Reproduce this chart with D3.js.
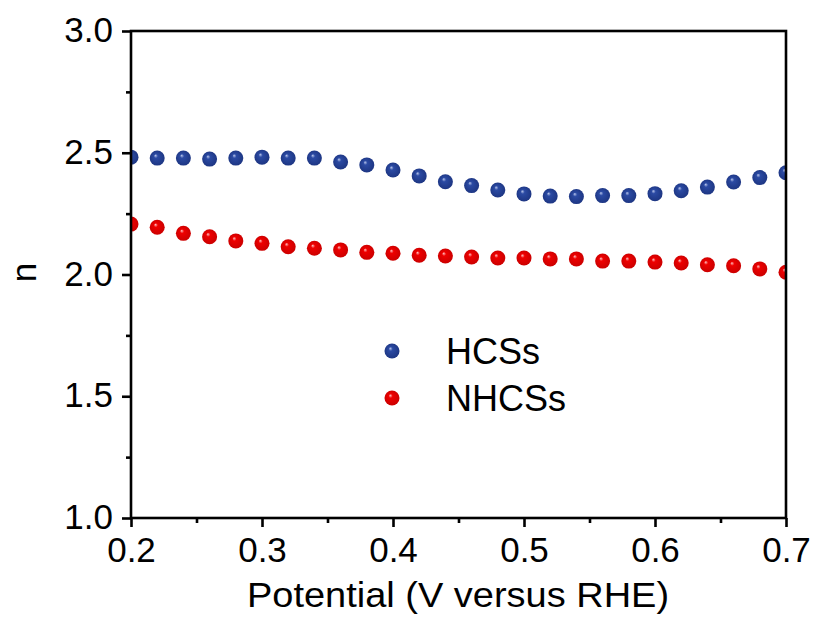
<!DOCTYPE html>
<html><head><meta charset="utf-8">
<script src="https://cdn.jsdelivr.net/npm/d3@7"></script>
<style>body{margin:0;background:#fff;}svg{display:block;font-family:"Liberation Sans",Arial,sans-serif;}</style>
</head><body>
<script>
const potential = [0.20,0.22,0.24,0.26,0.28,0.30,0.32,0.34,0.36,0.38,0.40,0.42,0.44,0.46,0.48,0.50,0.52,0.54,0.56,0.58,0.60,0.62,0.64,0.66,0.68,0.70];
const hcss = [2.482,2.478,2.478,2.474,2.478,2.482,2.478,2.478,2.462,2.450,2.429,2.405,2.381,2.365,2.347,2.331,2.322,2.320,2.324,2.324,2.332,2.344,2.359,2.380,2.398,2.418];
const nhcss = [2.207,2.194,2.169,2.155,2.138,2.128,2.114,2.108,2.101,2.091,2.087,2.079,2.076,2.072,2.068,2.068,2.064,2.064,2.055,2.055,2.051,2.047,2.040,2.036,2.023,2.009];
const xTicks = [0.2,0.3,0.4,0.5,0.6,0.7];
const xMinor = [0.25,0.35,0.45,0.55,0.65];
const yTicks = [1.0,1.5,2.0,2.5,3.0];
const yMinor = [1.25,1.75,2.25,2.75];
const seriesNames = ["HCSs","NHCSs"];

const W = 818, H = 617;
const L = 131, R = 786, T = 31, B = 518;
const x = d3.scaleLinear().domain([0.2,0.7]).range([L,R]);
const y = d3.scaleLinear().domain([1.0,3.0]).range([B,T]);

const svg = d3.select("body").append("svg").attr("width",W).attr("height",H);
const defs = svg.append("defs");
function grad(id, light, base, dark){
  const g = defs.append("radialGradient").attr("id",id).attr("cx","50%").attr("cy","50%").attr("r","55%").attr("fx","38%").attr("fy","32%");
  g.append("stop").attr("offset","0%").attr("stop-color",light);
  g.append("stop").attr("offset","25%").attr("stop-color",base);
  g.append("stop").attr("offset","100%").attr("stop-color",dark);
}
grad("gb","#b9c6ec","#2b4aa3","#1c3480");
grad("gr","#ffc4c4","#ee0000","#c80000");
defs.append("clipPath").attr("id","clip").append("rect").attr("x",L).attr("y",T).attr("width",R-L).attr("height",B-T);

const r = 7.5;
const plot = svg.append("g").attr("clip-path","url(#clip)");
const series = [{vals:hcss, fill:"url(#gb)"},{vals:nhcss, fill:"url(#gr)"}];
series.forEach(s=>{
  plot.selectAll(null).data(potential.map((p,i)=>[p,s.vals[i]])).enter().append("circle")
    .attr("cx",d=>x(d[0])).attr("cy",d=>y(d[1])).attr("r",r).attr("fill",s.fill);
});

// axes
const xAxis = d3.axisBottom(x).tickValues(xTicks).tickSize(9).tickPadding(10).tickFormat(d3.format(".1f"));
const gx = svg.append("g").attr("transform",`translate(0,${B})`).call(xAxis);
const gxm = svg.append("g").attr("transform",`translate(0,${B})`).call(d3.axisBottom(x).tickValues(xMinor).tickSize(5).tickFormat(""));
const yAxis = d3.axisLeft(y).tickValues(yTicks).tickSize(9).tickPadding(9).tickFormat(d3.format(".1f"));
const gy = svg.append("g").attr("transform",`translate(${L},0)`).call(yAxis);
const gym = svg.append("g").attr("transform",`translate(${L},0)`).call(d3.axisLeft(y).tickValues(yMinor).tickSize(5).tickFormat(""));
[gx,gxm,gy,gym].forEach(g=>{
  g.select(".domain").remove();
  g.selectAll("line").attr("stroke","#000").attr("stroke-width",2.6);
  g.selectAll("text").attr("fill","#000").attr("font-size",35).attr("font-family","Liberation Sans, Arial, sans-serif");
});
gy.selectAll("text").attr("dy","0.3em");
// frame
svg.append("rect").attr("x",L).attr("y",T).attr("width",R-L).attr("height",B-T)
  .attr("fill","none").attr("stroke","#000").attr("stroke-width",2.6);

// titles
svg.append("text").attr("transform",`translate(${(L+R)/2-0.5},607) scale(1.055,1)`).attr("text-anchor","middle")
  .attr("font-size",36).text("Potential (V versus RHE)");
svg.append("text").attr("transform",`translate(36,${(T+B)/2-2}) rotate(-90)`).attr("text-anchor","middle")
  .attr("font-size",35).text("n");

// legend
const leg = svg.append("g");
const legY = [351, 398];
seriesNames.forEach((n,i)=>{
  leg.append("circle").attr("cx",392).attr("cy",legY[i]).attr("r",r).attr("fill",series[i].fill);
  leg.append("text").attr("x",446).attr("y",legY[i]+13).attr("font-size",36).text(n);
});
</script>
</body></html>
